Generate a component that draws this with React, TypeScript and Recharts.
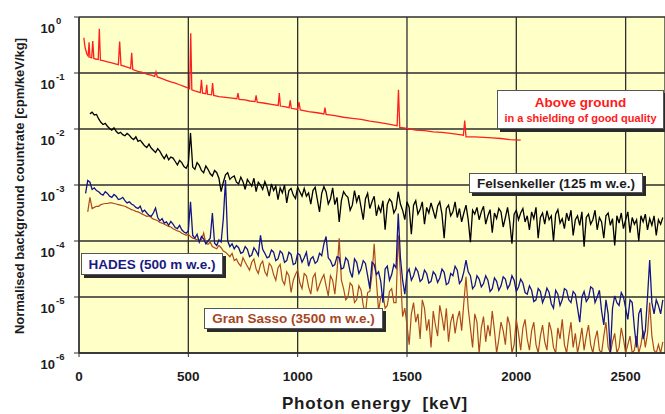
import React from "react";
import { LineChart, Line, CartesianGrid, XAxis, YAxis } from "recharts";

// common 10 keV channel grid of the three underground spectra (keV)
const gridEnergy = [
  30, 40, 50, 60, 70, 80, 90, 100, 110, 120,
  130, 140, 150, 160, 170, 180, 190, 200, 210, 220,
  230, 240, 250, 260, 270, 280, 290, 300, 310, 320,
  330, 340, 350, 360, 370, 380, 390, 400, 410, 420,
  430, 440, 450, 460, 470, 480, 490, 500, 510, 520,
  530, 540, 550, 560, 570, 580, 590, 600, 610, 620,
  630, 640, 650, 660, 670, 680, 690, 700, 710, 720,
  730, 740, 750, 760, 770, 780, 790, 800, 810, 820,
  830, 840, 850, 860, 870, 880, 890, 900, 910, 920,
  930, 940, 950, 960, 970, 980, 990, 1000, 1010, 1020,
  1030, 1040, 1050, 1060, 1070, 1080, 1090, 1100, 1110, 1120,
  1130, 1140, 1150, 1160, 1170, 1180, 1190, 1200, 1210, 1220,
  1230, 1240, 1250, 1260, 1270, 1280, 1290, 1300, 1310, 1320,
  1330, 1340, 1350, 1360, 1370, 1380, 1390, 1400, 1410, 1420,
  1430, 1440, 1450, 1460, 1470, 1480, 1490, 1500, 1510, 1520,
  1530, 1540, 1550, 1560, 1570, 1580, 1590, 1600, 1610, 1620,
  1630, 1640, 1650, 1660, 1670, 1680, 1690, 1700, 1710, 1720,
  1730, 1740, 1750, 1760, 1770, 1780, 1790, 1800, 1810, 1820,
  1830, 1840, 1850, 1860, 1870, 1880, 1890, 1900, 1910, 1920,
  1930, 1940, 1950, 1960, 1970, 1980, 1990, 2000, 2010, 2020,
  2030, 2040, 2050, 2060, 2070, 2080, 2090, 2100, 2110, 2120,
  2130, 2140, 2150, 2160, 2170, 2180, 2190, 2200, 2210, 2220,
  2230, 2240, 2250, 2260, 2270, 2280, 2290, 2300, 2310, 2320,
  2330, 2340, 2350, 2360, 2370, 2380, 2390, 2400, 2410, 2420,
  2430, 2440, 2450, 2460, 2470, 2480, 2490, 2500, 2510, 2520,
  2530, 2540, 2550, 2560, 2570, 2580, 2590, 2600, 2610, 2620,
  2630, 2640, 2650, 2660, 2670,
];

// countrates as log10 [cpm/keV/kg]
const felsenkellerLog = [
  null, null, -1.73, -1.7, -1.75, -1.74, -1.82, -1.88, -1.92, -1.9,
  -1.95, -1.99, -2.02, -1.98, -2.04, -2.08, -2.06, -2.1, -2.12, -2.08,
  -2.11, -2.16, -2.19, -2.14, -2.22, -2.2, -2.25, -2.3, -2.33, -2.27,
  -2.34, -2.38, -2.42, -2.35, -2.4, -2.47, -2.53, -2.46, -2.55, -2.5,
  -2.52, -2.58, -2.64, -2.56, -2.6, -2.67, -2.7, -2.62, -2.07, -2.68,
  -2.72, -2.6, -2.65, -2.74, -2.78, -2.66, -2.72, -2.8, -2.84, -2.74,
  -2.78, -2.88, -3.12, -2.95, -2.82, -2.78, -2.9, -2.86, -2.84, -2.95,
  -2.98, -2.86, -2.94, -3.08, -2.9, -2.96, -3.02, -2.88, -3.12, -2.95,
  -3.0, -3.08, -2.94, -3.04, -3.2, -2.98, -3.1, -3.02, -3.26, -3.05,
  -3.14, -3.0, -3.32, -3.1, -3.06, -3.18, -3.24, -3.04, -3.12, -3.2,
  -3.06, -3.2, -3.14, -3.34, -3.1, -3.04, -3.26, -3.48, -3.15, -3.03,
  -3.12, -3.34, -3.25, -3.05, -3.35, -3.22, -3.66, -3.28, -3.12, -3.18,
  -3.22, -3.45, -3.36, -3.1, -3.3, -3.18, -3.4, -3.62, -3.25, -3.15,
  -3.42, -3.3, -3.2, -3.55, -3.38, -3.48, -3.28, -3.8, -3.35, -3.25,
  -3.3, -3.5, -3.42, -3.12, -3.34, -3.45, -3.62, -3.3, -3.4, -3.88,
  -3.36, -3.28, -3.52, -3.44, -3.3, -3.7, -3.4, -3.5, -3.32, -3.46,
  -3.6, -3.38, -3.3, -3.52, -3.95, -3.42, -3.36, -3.55, -3.48, -3.3,
  -3.58, -3.42, -3.66, -3.5, -3.36, -3.62, -4.02, -3.45, -3.52, -3.4,
  -3.62, -3.48, -3.38, -3.7, -3.55, -3.44, -3.85, -3.5, -3.6, -3.42,
  -3.48, -3.75, -3.58, -3.4, -3.66, -4.05, -3.52, -3.45, -3.62, -3.5,
  -3.42, -3.66, -3.55, -3.8, -3.48, -3.6, -3.4, -3.95, -3.58, -3.5,
  -3.7, -3.46, -3.62, -3.55, -4.0, -3.52, -3.44, -3.68, -3.6, -3.78,
  -3.5, -3.64, -3.45, -3.9, -3.62, -3.55, -3.72, -3.48, -4.1, -3.58,
  -3.52, -3.7, -3.62, -3.45, -3.8, -3.58, -3.66, -3.95, -3.55, -3.5,
  -3.72, -3.6, -4.08, -3.55, -3.68, -3.5, -3.78, -3.62, -3.48, -3.85,
  -3.58, -3.7, -3.62, -4.0, -3.55, -3.66, -3.52, -3.8, -3.6, -3.72,
  -3.55, -3.9, -3.62, -3.7, -3.58,
];

const hadesLog = [
  -3.15, -2.92, -2.95, -3.08, -3.05, -3.1, -3.12, -3.16, -3.18, -3.12,
  -3.15, -3.2, -3.22, -3.17, -3.2, -3.26, -3.25, -3.22, -3.28, -3.32,
  -3.3, -3.34, -3.36, -3.4, -3.42, -3.38, -3.48, -3.45, -3.5, -3.54,
  -3.56, -3.5, -3.41, -3.58, -3.64, -3.6, -3.68, -3.66, -3.72, -3.65,
  -3.7, -3.76, -3.78, -3.72, -3.8, -3.84, -3.86, -3.82, -3.3, -3.9,
  -3.95, -3.88, -4.02, -3.92, -3.96, -4.05, -4.0, -3.95, -3.5, -4.04,
  -4.08, -3.98, -4.02, -3.6, -2.91, -4.0, -4.1, -4.05, -4.14, -4.08,
  -4.12, -4.22, -4.2, -4.1, -4.15, -4.28, -4.25, -4.12, -4.18, -4.26,
  -3.9, -4.15, -4.22, -4.3, -4.28, -4.16, -4.2, -4.35, -4.32, -4.18,
  -4.22, -4.38, -4.35, -4.2, -4.24, -4.42, -4.4, -4.22, -4.25, -4.38,
  -4.3, -4.2, -4.45, -4.32, -4.28, -4.4, -4.36, -4.22, -4.26, -4.05,
  -3.92, -4.3, -4.35, -4.45, -4.42, -4.28, -4.3, -4.5, -4.48, -4.3,
  -4.35, -4.55, -4.65, -4.32, -4.38, -4.58, -4.5, -4.35, -4.4, -4.62,
  -4.85, -4.38, -4.42, -4.6, -4.55, -4.72, -5.1, -4.5, -4.45, -4.7,
  -4.6, -4.42, -4.48, -3.51, -4.3, -4.7, -4.95, -4.58, -4.5, -4.7,
  -4.62, -4.48, -4.55, -4.72, -4.68, -4.52, -4.58, -4.75, -4.72, -4.55,
  -4.6, -4.74, -4.66, -4.5, -4.56, -4.78, -4.75, -4.58, -4.62, -4.45,
  -4.52, -4.76, -4.7, -4.55, -4.34, -4.55, -4.62, -4.85, -4.8, -4.62,
  -4.68, -4.82, -4.76, -4.62, -4.7, -4.9, -4.85, -4.66, -4.72, -4.88,
  -4.8, -4.64, -4.68, -4.85, -4.78, -4.62, -4.7, -4.9, -4.82, -4.68,
  -4.75, -4.92, -4.95, -4.8, -4.88, -5.08, -5.05, -4.85, -4.9, -5.1,
  -5.0, -4.84, -4.92, -5.12, -5.2, -4.88, -4.95, -5.15, -5.05, -4.85,
  -4.88, -5.05, -5.1, -4.9, -4.95, -5.2, -5.45, -5.0, -4.9, -5.08,
  -5.02, -4.82, -4.85, -5.1, -5.0, -4.88, -5.25, -5.5, -5.05, -5.3,
  -6.0, -5.2, -4.98, -5.1, -5.15, -4.92, -5.0, -5.2, -5.4, -5.05,
  -5.1, -5.55, -5.9, -5.3, -5.2, -5.75, -5.6, -5.0, -4.34, -5.1,
  -5.3, -5.05, -5.15, -5.3, -5.05,
];

const granSassoLog = [
  null, -3.48, -3.22, -3.42, -3.4, -3.38, -3.38, -3.35, -3.34, -3.33,
  -3.33, -3.32, -3.32, -3.33, -3.34, -3.35, -3.36, -3.37, -3.38, -3.4,
  -3.42, -3.44, -3.45, -3.47, -3.48, -3.5, -3.52, -3.54, -3.56, -3.55,
  -3.58, -3.61, -3.62, -3.64, -3.67, -3.68, -3.7, -3.72, -3.74, -3.75,
  -3.78, -3.8, -3.82, -3.83, -3.86, -3.88, -3.9, -3.88, -3.92, -3.95,
  -3.96, -3.98, -4.0, -3.98, -3.86, -4.04, -4.06, -4.02, -4.1, -4.12,
  -4.14, -4.08, -4.12, -4.18, -4.2, -4.24, -4.28, -4.22, -4.35, -4.32,
  -4.4, -4.45, -4.3, -4.38, -4.45, -4.52, -4.38, -4.32, -4.5, -4.58,
  -4.42, -4.36, -4.55, -4.62, -4.4, -4.45, -4.6, -4.7, -4.48, -4.42,
  -4.7, -4.78, -4.55, -4.62, -4.92, -4.7, -4.6, -4.52, -4.75, -4.85,
  -4.58, -4.62, -4.82, -4.95, -4.65, -4.58, -4.9, -4.78, -4.68, -4.6,
  -4.8, -4.98, -4.62, -4.7, -4.95, -4.55, -3.95, -4.7, -4.85, -5.05,
  -5.0, -4.75, -4.8, -5.1, -5.05, -4.8, -4.88, -5.15, -5.3, -4.92,
  -4.9, -4.6, -4.05, -4.7, -5.25, -5.0, -4.95, -5.2, -5.15, -4.9,
  -4.85, -5.1, -5.1, -3.9, -4.6, -5.35, -5.2, -5.5, -5.85, -5.3,
  -5.1, -5.45, -5.3, -5.75, -5.05, -5.2, -5.6, -5.4, -5.9, -5.25,
  -5.5, -5.7, -5.15, -5.35, -5.6, -5.2, -5.8, -5.45, -5.3, -5.65,
  -5.4, -5.25, -5.6, -5.1, -4.64, -5.2, -5.55, -5.9, -5.3, -5.45,
  -6.0, -5.55, -5.35, -5.8, -5.5, -5.7, -5.25, -5.6, -6.0, -5.75,
  -5.45, -5.6, -5.85, -5.35, -5.5, -6.0, -5.85, -5.4, -5.65, -5.95,
  -5.55, -5.4, -5.75, -5.95, -5.6, -5.45, -5.85, -6.0, -5.7, -5.5,
  -5.8, -5.95, -5.45, -5.6, -5.9, -6.0, -5.55, -5.75, -5.4, -5.85,
  -6.0, -5.7, -5.45, -5.9, -5.65, -6.0, -5.8, -5.55, -5.95, -5.7,
  -5.5, -5.85, -6.0, -5.75, -5.6, -5.95, -6.0, -5.7, -5.45, -5.9,
  -6.0, -5.8, -5.65, -6.0, -5.9, -5.55, -5.75, -6.0, -5.85, -5.7,
  -6.0, -5.95, -5.7, -6.0, -5.85, -5.6, -5.9, -5.65, -5.1, -5.7,
  -5.95, -6.0, -5.85, -6.0, -5.8,
];

// above-ground spectrum (keV, log10 countrate), smooth with gamma lines
const aboveEnergy = [
  22, 28, 36, 42, 46, 50, 58, 63, 68, 76, 88, 93, 98, 110, 130, 150, 170, 180,
  186, 192, 210, 230, 236, 241, 246, 270, 290, 310, 330, 346, 352, 358, 380,
  400, 420, 440, 460, 480, 500, 506, 511, 516, 530, 555, 560, 565, 580, 584,
  588, 606, 611, 616, 640, 660, 700, 722, 727, 732, 760, 780, 805, 810, 815,
  850, 880, 911, 916, 921, 940, 961, 966, 971, 1000, 1006, 1012, 1050, 1090,
  1120, 1125, 1130, 1170, 1210, 1250, 1290, 1330, 1370, 1410, 1440, 1455,
  1461, 1467, 1500, 1540, 1580, 1620, 1660, 1700, 1740, 1758, 1764, 1770,
  1810, 1850, 1890, 1930, 1970, 2020,
];
const aboveLog = [
  -0.37, -0.55, -0.66, -0.7, -0.45, -0.72, -0.73, -0.43, -0.74, -0.75, -0.76,
  -0.21, -0.77, -0.78, -0.8, -0.82, -0.84, -0.85, -0.44, -0.86, -0.88, -0.91,
  -0.92, -0.64, -0.94, -0.97, -0.99, -1.02, -1.04, -1.06, -0.98, -1.07, -1.1,
  -1.13, -1.16, -1.18, -1.21, -1.24, -1.27, -1.28, -0.29, -1.3, -1.32, -1.35,
  -1.12, -1.36, -1.37, -1.21, -1.38, -1.39, -1.18, -1.4, -1.42, -1.43, -1.45,
  -1.46, -1.36, -1.47, -1.48, -1.5, -1.51, -1.4, -1.52, -1.54, -1.56, -1.58,
  -1.36, -1.59, -1.6, -1.62, -1.49, -1.63, -1.65, -1.52, -1.66, -1.69, -1.71,
  -1.73, -1.62, -1.74, -1.76, -1.79, -1.81, -1.83, -1.86, -1.88, -1.91, -1.93,
  -1.94, -1.3, -1.97, -1.99, -2.02, -2.03, -2.05, -2.06, -2.08, -2.1, -2.11,
  -1.85, -2.14, -2.14, -2.15, -2.16, -2.17, -2.19, -2.2,
];

const energyTicks = [0, 500, 1000, 1500, 2000, 2500];
const decadeTicks = [1e-6, 1e-5, 1e-4, 1e-3, 1e-2, 1e-1, 1];

const toRate = (v: number | null) => (v == null ? null : Math.pow(10, v));

const gridRows = gridEnergy.map((energy, i) => ({
  energy,
  felsenkeller: toRate(felsenkellerLog[i]),
  hades: toRate(hadesLog[i]),
  granSasso: toRate(granSassoLog[i]),
}));
const aboveRows = aboveEnergy.map((energy, i) => ({
  energy,
  above: toRate(aboveLog[i]),
}));

const FONT = "'Liberation Sans', Arial, Helvetica, sans-serif";
const INK = "#1c1c1c";

function PowerTick({ x, y, payload }: any) {
  const exp = Math.round(Math.log10(payload.value));
  return (
    <g fontFamily={FONT} fontWeight="bold" fill={INK}>
      <text x={x - 17} y={y + 16} textAnchor="end" fontSize={13}>
        10
      </text>
      <text x={x - 16} y={y + 7} textAnchor="start" fontSize={9.5}>
        {exp === 0 ? "0" : `-${Math.abs(exp)}`}
      </text>
    </g>
  );
}

function EnergyTick({ x, y, payload }: any) {
  return (
    <text
      x={x}
      y={y + 22}
      textAnchor="middle"
      fontFamily={FONT}
      fontWeight="bold"
      fontSize={13.5}
      fill={INK}
    >
      {payload.value}
    </text>
  );
}

const boxBase: React.CSSProperties = {
  position: "absolute",
  background: "#ffffff",
  border: "1px solid #555",
  boxShadow: "3px 3px 0 #2a2a2a",
  fontFamily: FONT,
  fontWeight: "bold",
  display: "flex",
  flexDirection: "column",
  alignItems: "center",
  justifyContent: "center",
  whiteSpace: "nowrap",
  boxSizing: "border-box",
};

export default function App() {
  return (
    <div
      style={{
        position: "absolute",
        left: 0,
        top: 0,
        width: 665,
        height: 414,
        overflow: "hidden",
        background: "#fff",
      }}
    >
      <LineChart
        width={665}
        height={414}
        data={gridRows}
        margin={{ top: 17, right: 0, bottom: 0, left: 0 }}
      >
        <CartesianGrid fill="#ffffc8" stroke="#2e2e2e" strokeWidth={1.3} />
        <XAxis
          type="number"
          dataKey="energy"
          domain={[0, 2680]}
          ticks={energyTicks}
          allowDataOverflow
          height={61}
          tickSize={4}
          axisLine={{ stroke: "#2e2e2e", strokeWidth: 1.3 }}
          tickLine={{ stroke: "#2e2e2e" }}
          tick={<EnergyTick />}
        />
        <YAxis
          type="number"
          scale="log"
          domain={[1e-6, 1]}
          ticks={decadeTicks}
          allowDataOverflow
          width={79}
          tickSize={5}
          axisLine={{ stroke: "#2e2e2e", strokeWidth: 1.3 }}
          tickLine={{ stroke: "#2e2e2e" }}
          tick={<PowerTick />}
        />
        <Line
          dataKey="granSasso"
          stroke="#ad4a1c"
          strokeWidth={1.2}
          dot={false}
          type="linear"
          isAnimationActive={false}
        />
        <Line
          dataKey="hades"
          stroke="#14148a"
          strokeWidth={1.3}
          dot={false}
          type="linear"
          isAnimationActive={false}
        />
        <Line
          dataKey="felsenkeller"
          stroke="#000000"
          strokeWidth={1.3}
          dot={false}
          type="linear"
          isAnimationActive={false}
        />
        <Line
          data={aboveRows}
          dataKey="above"
          stroke="#ff1f1f"
          strokeWidth={1.3}
          dot={false}
          type="linear"
          isAnimationActive={false}
        />
      </LineChart>

      <div style={{ ...boxBase, left: 497, top: 90, width: 167, height: 39, color: "#ff1a1a" }}>
        <div style={{ fontSize: 13.5, lineHeight: "16px" }}>Above ground</div>
        <div style={{ fontSize: 11, lineHeight: "14px" }}>in a shielding of good quality</div>
      </div>
      <div style={{ ...boxBase, left: 469, top: 173, width: 174, height: 20, color: INK, fontSize: 13.5 }}>
        Felsenkeller (125 m w.e.)
      </div>
      <div style={{ ...boxBase, left: 81, top: 253, width: 142, height: 22, color: "#1a1a80", fontSize: 13.5 }}>
        HADES (500 m w.e.)
      </div>
      <div style={{ ...boxBase, left: 204, top: 308, width: 179, height: 21, color: "#a8461c", fontSize: 13.5 }}>
        Gran Sasso (3500 m w.e.)
      </div>

      <div
        style={{
          position: "absolute",
          left: 19,
          top: 186,
          transform: "translate(-50%, -50%) rotate(-90deg)",
          fontFamily: FONT,
          fontWeight: "bold",
          fontSize: 13,
          color: INK,
          whiteSpace: "nowrap",
        }}
      >
        Normalised background countrate [cpm/keV/kg]
      </div>
      <div
        style={{
          position: "absolute",
          left: 375,
          top: 404,
          transform: "translate(-50%, -50%)",
          fontFamily: FONT,
          fontWeight: "bold",
          fontSize: 17,
          letterSpacing: 0.8,
          color: INK,
          whiteSpace: "nowrap",
        }}
      >
        Photon energy&nbsp;&nbsp;[keV]
      </div>
    </div>
  );
}
